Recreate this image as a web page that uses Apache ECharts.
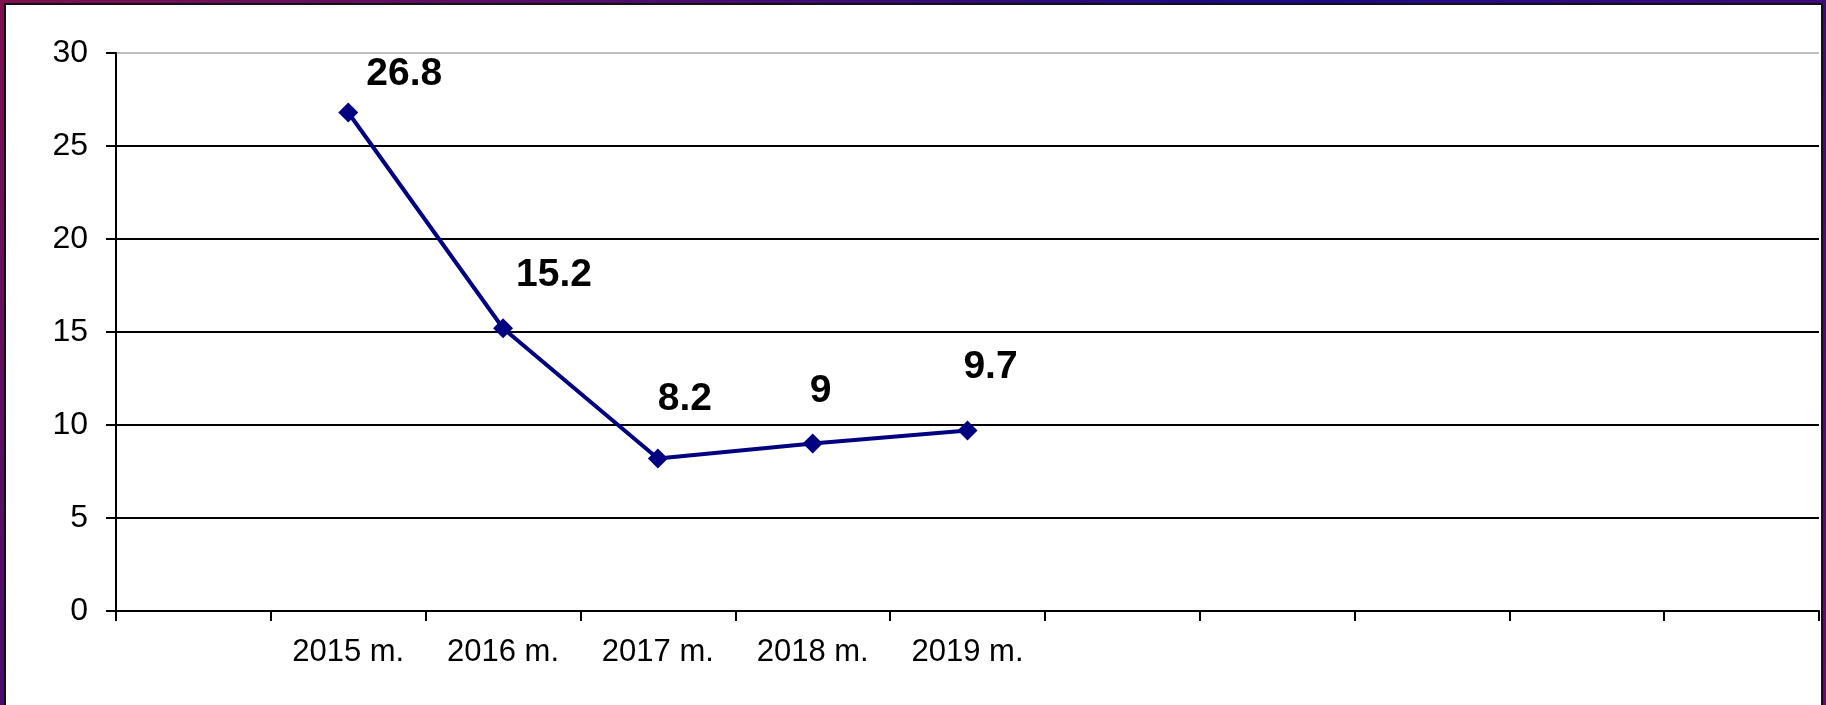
<!DOCTYPE html>
<html>
<head>
<meta charset="utf-8">
<script src="https://cdn.jsdelivr.net/npm/echarts@6/dist/echarts.min.js"></script>
<style>
  html, body {
    margin: 0;
    padding: 0;
    width: 1826px;
    height: 705px;
    overflow: hidden;
    background: linear-gradient(135deg, #80104e 0%, #1c0a8a 50%, #6a0a6e 100%);
  }
  #frame {
    position: absolute;
    left: 4px;
    top: 3px;
    right: 3px;
    bottom: 0;
    background: #fff;
    border-top: 2px solid #111;
    border-left: 2px solid #111;
    border-right: 2px solid #111;
  }
  #chart {
    position: absolute;
    left: 0;
    top: 0;
    width: 1826px;
    height: 705px;
  }
</style>
</head>
<body>
<div id="frame"></div>
<div id="chart"></div>
<script>
// categories (first and last slots are empty in the original)
const years = ['', '2015 m.', '2016 m.', '2017 m.', '2018 m.', '2019 m.', '', '', '', '', '']
const values = ['-', 26.8, 15.2, 8.2, 9, 9.7, '-', '-', '-', '-', '-']
const yTicks = { min: 0, max: 30, interval: 5 }

// hand placed label offsets, like the original chart
const labelOffsets = [
  [0, 0], [56, -38], [51, -53], [27, -59], [8, -52], [23, -63],
  [0, 0], [0, 0], [0, 0], [0, 0], [0, 0],
]

const font = '"Liberation Sans", Arial, sans-serif'

const chart = echarts.init(document.getElementById('chart'), null, { renderer: 'canvas' })

const option = {
  backgroundColor: 'transparent',
  animation: false,
  grid: {
    left: 116,
    right: 7,
    top: 53,
    bottom: 94,
  },
  xAxis: {
    type: 'category',
    data: years,
    boundaryGap: true,
    axisLine: { lineStyle: { color: '#000', width: 2 } },
    axisTick: { show: true, length: 10, lineStyle: { color: '#000', width: 2 } },
    axisLabel: {
      interval: 0,
      color: '#000',
      fontSize: 31,
      fontFamily: font,
      margin: 26,
    },
    splitLine: { show: false },
  },
  yAxis: {
    type: 'value',
    min: yTicks.min,
    max: yTicks.max,
    interval: yTicks.interval,
    axisLine: { show: true, lineStyle: { color: '#000', width: 2 } },
    axisTick: { show: true, length: 10, lineStyle: { color: '#000', width: 2 } },
    axisLabel: {
      color: '#000',
      fontSize: 32,
      fontFamily: font,
      margin: 28,
    },
    splitLine: {
      show: true,
      lineStyle: {
        color: ['#000', '#000', '#000', '#000', '#000', '#000', '#c0c0c0'],
        width: 2,
      },
    },
  },
  series: [
    {
      type: 'line',
      data: values.map((v, i) => ({
        value: v,
        label: { offset: labelOffsets[i] },
      })),
      symbol: 'diamond',
      symbolSize: 20,
      lineStyle: { color: '#000080', width: 4 },
      itemStyle: { color: '#000080' },
      label: {
        show: true,
        position: 'inside',
        color: '#000',
        fontSize: 39,
        fontWeight: 'bold',
        fontFamily: font,
      },
    },
  ],
}

chart.setOption(option)
</script>
</body>
</html>
